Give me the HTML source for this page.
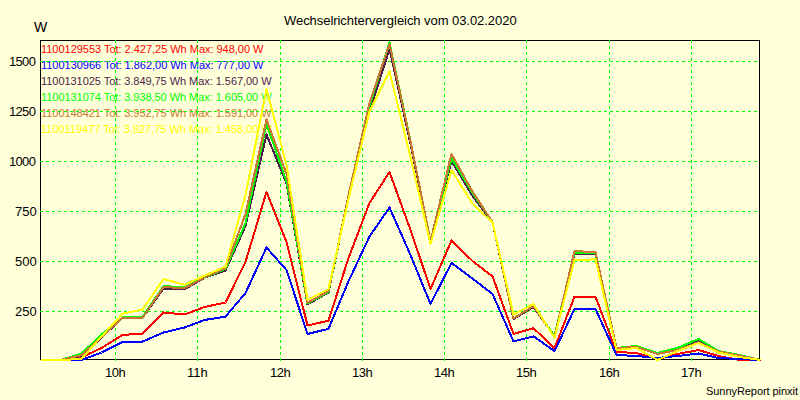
<!DOCTYPE html>
<html><head><meta charset="utf-8"><style>
html,body{margin:0;padding:0;width:800px;height:400px;overflow:hidden;background:#FFFFDA;}
svg{display:block;font-family:"Liberation Sans",sans-serif;}
</style></head><body>
<svg width="800" height="400" viewBox="0 0 800 400">
<rect x="0" y="0" width="800" height="400" fill="#FFFFDA"/>
<text x="41.00" y="53" font-size="11" fill="#FF0000" textLength="222.42" lengthAdjust="spacing">1100129553 Tot: 2.427,25 Wh Max: 948,00 W</text>
<text x="41.00" y="69" font-size="11" fill="#0000FF" textLength="222.42" lengthAdjust="spacing">1100130966 Tot: 1.862,00 Wh Max: 777,00 W</text>
<text x="41.00" y="85" font-size="11" fill="#4B1E4B" textLength="230.59" lengthAdjust="spacing">1100131025 Tot: 3.849,75 Wh Max: 1.567,00 W</text>
<text x="41.00" y="101" font-size="11" fill="#00FF00" textLength="230.59" lengthAdjust="spacing">1100131074 Tot: 3.938,50 Wh Max: 1.605,00 W</text>
<text x="41.00" y="117" font-size="11" fill="#C87832" textLength="230.59" lengthAdjust="spacing">1100148421 Tot: 3.952,75 Wh Max: 1.591,00 W</text>
<text x="41.00" y="133" font-size="11" fill="#FFFF00" textLength="230.78" lengthAdjust="spacing">1100119477 Tot: 3.927,75 Wh Max: 1.458,00 W</text>
<rect x="40.5" y="40.5" width="719" height="319" fill="none" stroke="#000" stroke-width="1" shape-rendering="crispEdges"/>
<line x1="115.5" y1="40" x2="115.5" y2="361" stroke="#00FF00" stroke-width="1" stroke-dasharray="3 3" shape-rendering="crispEdges"/>
<line x1="197.5" y1="40" x2="197.5" y2="361" stroke="#00FF00" stroke-width="1" stroke-dasharray="3 3" shape-rendering="crispEdges"/>
<line x1="280.5" y1="40" x2="280.5" y2="361" stroke="#00FF00" stroke-width="1" stroke-dasharray="3 3" shape-rendering="crispEdges"/>
<line x1="362.5" y1="40" x2="362.5" y2="361" stroke="#00FF00" stroke-width="1" stroke-dasharray="3 3" shape-rendering="crispEdges"/>
<line x1="444.5" y1="40" x2="444.5" y2="361" stroke="#00FF00" stroke-width="1" stroke-dasharray="3 3" shape-rendering="crispEdges"/>
<line x1="526.5" y1="40" x2="526.5" y2="361" stroke="#00FF00" stroke-width="1" stroke-dasharray="3 3" shape-rendering="crispEdges"/>
<line x1="609.5" y1="40" x2="609.5" y2="361" stroke="#00FF00" stroke-width="1" stroke-dasharray="3 3" shape-rendering="crispEdges"/>
<line x1="691.5" y1="40" x2="691.5" y2="361" stroke="#00FF00" stroke-width="1" stroke-dasharray="3 3" shape-rendering="crispEdges"/>
<line x1="40" y1="61.5" x2="760" y2="61.5" stroke="#00FF00" stroke-width="1" stroke-dasharray="3 3" shape-rendering="crispEdges"/>
<line x1="40" y1="111.5" x2="760" y2="111.5" stroke="#00FF00" stroke-width="1" stroke-dasharray="3 3" shape-rendering="crispEdges"/>
<line x1="40" y1="161.5" x2="760" y2="161.5" stroke="#00FF00" stroke-width="1" stroke-dasharray="3 3" shape-rendering="crispEdges"/>
<line x1="40" y1="211.5" x2="760" y2="211.5" stroke="#00FF00" stroke-width="1" stroke-dasharray="3 3" shape-rendering="crispEdges"/>
<line x1="40" y1="261.5" x2="760" y2="261.5" stroke="#00FF00" stroke-width="1" stroke-dasharray="3 3" shape-rendering="crispEdges"/>
<line x1="40" y1="311.5" x2="760" y2="311.5" stroke="#00FF00" stroke-width="1" stroke-dasharray="3 3" shape-rendering="crispEdges"/>
<polyline points="40.50,360.00 60.50,360.00 81.50,357.30 101.50,348.00 122.50,334.90 142.50,333.70 163.50,312.50 184.50,314.50 204.50,307.00 225.50,302.50 245.50,262.00 266.50,192.00 286.50,242.00 307.50,325.50 328.50,320.70 348.50,258.00 369.50,203.00 389.50,172.00 410.50,230.00 430.50,289.00 451.50,240.50 472.50,261.00 492.50,276.40 513.50,334.00 533.50,328.20 554.50,348.20 574.50,296.70 595.50,296.70 616.50,352.00 636.50,353.00 657.50,359.00 677.50,354.00 698.50,350.00 718.50,356.00 739.50,360.00 760.50,360.00" fill="none" stroke="#FF0000" stroke-width="2" stroke-linejoin="round" shape-rendering="crispEdges"/>
<polyline points="40.50,360.00 60.50,360.00 81.50,360.00 101.50,352.50 122.50,342.00 142.50,341.60 163.50,332.50 184.50,327.50 204.50,320.00 225.50,316.60 245.50,293.00 266.50,247.50 286.50,270.00 307.50,334.00 328.50,328.80 348.50,281.30 369.50,236.50 389.50,207.50 410.50,255.00 430.50,304.00 451.50,263.00 472.50,278.50 492.50,294.00 513.50,341.30 533.50,336.30 554.50,351.10 574.50,309.00 595.50,309.00 616.50,355.00 636.50,356.00 657.50,358.00 677.50,356.00 698.50,353.50 718.50,358.00 739.50,359.00 760.50,360.00" fill="none" stroke="#0000FF" stroke-width="2" stroke-linejoin="round" shape-rendering="crispEdges"/>
<polyline points="40.50,360.00 60.50,360.00 81.50,356.00 101.50,337.50 122.50,318.00 142.50,318.00 163.50,288.50 184.50,289.30 204.50,277.80 225.50,270.50 245.50,226.00 266.50,134.50 286.50,183.50 307.50,304.50 328.50,292.50 348.50,197.00 369.50,112.00 389.50,49.00 410.50,144.00 430.50,241.50 451.50,161.00 472.50,196.00 492.50,222.50 513.50,319.00 533.50,307.00 554.50,336.50 574.50,254.20 595.50,254.20 616.50,349.00 636.50,347.00 657.50,354.00 677.50,350.00 698.50,341.00 718.50,351.50 739.50,356.00 760.50,360.00" fill="none" stroke="#4B1E4B" stroke-width="2" stroke-linejoin="round" shape-rendering="crispEdges"/>
<polyline points="40.50,360.00 60.50,360.00 81.50,353.60 101.50,334.50 122.50,317.50 142.50,317.00 163.50,286.00 184.50,287.40 204.50,277.50 225.50,269.00 245.50,223.00 266.50,124.00 286.50,181.50 307.50,303.50 328.50,292.00 348.50,196.00 369.50,106.00 389.50,42.50 410.50,141.00 430.50,241.00 451.50,158.50 472.50,193.00 492.50,222.00 513.50,318.50 533.50,306.00 554.50,335.80 574.50,252.50 595.50,253.00 616.50,348.00 636.50,346.00 657.50,353.00 677.50,348.00 698.50,339.00 718.50,351.00 739.50,355.00 760.50,360.00" fill="none" stroke="#00FF00" stroke-width="2" stroke-linejoin="round" shape-rendering="crispEdges"/>
<polyline points="40.50,360.00 60.50,360.00 81.50,355.20 101.50,337.00 122.50,317.80 142.50,317.80 163.50,287.00 184.50,288.20 204.50,277.30 225.50,268.00 245.50,214.00 266.50,119.50 286.50,174.00 307.50,302.70 328.50,291.20 348.50,195.00 369.50,103.00 389.50,44.00 410.50,141.50 430.50,241.00 451.50,154.00 472.50,191.50 492.50,222.00 513.50,318.50 533.50,306.00 554.50,337.00 574.50,251.00 595.50,252.20 616.50,348.00 636.50,347.00 657.50,354.00 677.50,350.00 698.50,342.50 718.50,351.50 739.50,355.50 760.50,360.00" fill="none" stroke="#C87832" stroke-width="2" stroke-linejoin="round" shape-rendering="crispEdges"/>
<polyline points="40.50,360.00 60.50,360.00 81.50,359.00 101.50,336.50 122.50,313.70 142.50,309.60 163.50,279.00 184.50,284.80 204.50,275.70 225.50,266.50 245.50,195.00 266.50,89.00 286.50,165.00 307.50,299.70 328.50,289.20 348.50,199.00 369.50,111.50 389.50,71.50 410.50,157.00 430.50,244.00 451.50,170.00 472.50,204.00 492.50,222.50 513.50,314.50 533.50,304.00 554.50,337.70 574.50,260.20 595.50,259.30 616.50,350.00 636.50,348.00 657.50,360.00 677.50,351.00 698.50,343.00 718.50,352.50 739.50,357.00 760.50,360.00" fill="none" stroke="#FFFF00" stroke-width="2" stroke-linejoin="round" shape-rendering="crispEdges"/>
<text x="9.00" y="66" font-size="13" fill="#000" textLength="26.92" lengthAdjust="spacing">1500</text>
<text x="9.00" y="116" font-size="13" fill="#000" textLength="26.92" lengthAdjust="spacing">1250</text>
<text x="9.00" y="166" font-size="13" fill="#000" textLength="26.92" lengthAdjust="spacing">1000</text>
<text x="15.00" y="216" font-size="13" fill="#000" textLength="21.70" lengthAdjust="spacing">750</text>
<text x="15.00" y="266" font-size="13" fill="#000" textLength="21.70" lengthAdjust="spacing">500</text>
<text x="15.00" y="316" font-size="13" fill="#000" textLength="21.70" lengthAdjust="spacing">250</text>
<text x="105.00" y="377" font-size="13" fill="#000" textLength="20.70" lengthAdjust="spacing">10h</text>
<text x="187.00" y="377" font-size="13" fill="#000" textLength="20.73" lengthAdjust="spacing">11h</text>
<text x="270.00" y="377" font-size="13" fill="#000" textLength="20.70" lengthAdjust="spacing">12h</text>
<text x="352.00" y="377" font-size="13" fill="#000" textLength="20.70" lengthAdjust="spacing">13h</text>
<text x="434.00" y="377" font-size="13" fill="#000" textLength="20.70" lengthAdjust="spacing">14h</text>
<text x="516.00" y="377" font-size="13" fill="#000" textLength="20.70" lengthAdjust="spacing">15h</text>
<text x="599.00" y="377" font-size="13" fill="#000" textLength="20.70" lengthAdjust="spacing">16h</text>
<text x="681.00" y="377" font-size="13" fill="#000" textLength="20.70" lengthAdjust="spacing">17h</text>
<text x="284.00" y="25" font-size="13" fill="#000" textLength="232.61" lengthAdjust="spacing">Wechselrichtervergleich vom 03.02.2020</text>
<text x="34.00" y="32" font-size="14" fill="#000" textLength="13.22" lengthAdjust="spacing">W</text>
<text x="706.00" y="395" font-size="11" fill="#000" textLength="91.95" lengthAdjust="spacing">SunnyReport pinxit</text>
</svg>
</body></html>
